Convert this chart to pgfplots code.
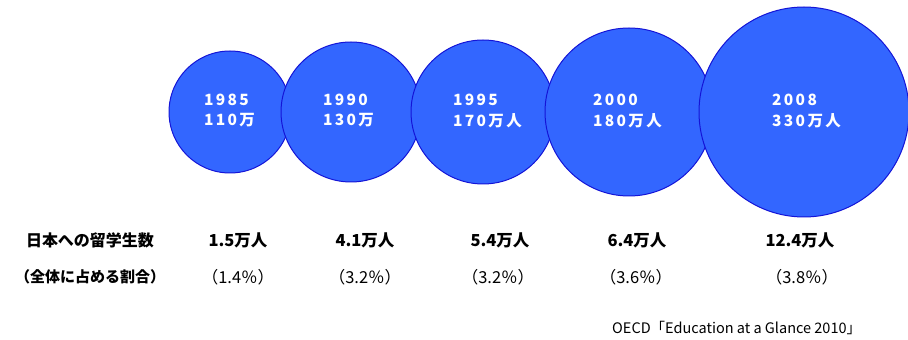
\documentclass[border=0pt]{standalone}
\usepackage{pgfplots}
\pgfplotsset{compat=1.18}
\usepackage{fontspec}
\setmainfont{Noto Sans CJK JP}
\newfontfamily\circfont[LetterSpace=15]{Noto Sans CJK JP}
\definecolor{bfill}{RGB}{51,102,255}
\definecolor{bdraw}{RGB}{20,20,215}
\pgfplotsset{txt/.style={only marks, mark=none, nodes near coords,
  point meta=explicit symbolic, nodes near coords align=center,
  every node near coord/.append style={inner sep=0pt, #1}}}
\begin{document}
\begin{tikzpicture}
\begin{axis}[x=1pt,y=1pt,xmin=0,xmax=908,ymin=0,ymax=340,hide axis,clip=false]
\addplot[scatter, only marks, mark=*, point meta=\thisrow{r},
  scatter/use mapped color={draw=bdraw, fill=bfill},
  visualization depends on={\thisrow{r}\as\rad},
  scatter/@pre marker code/.append style={/tikz/mark size=\rad},
  mark options={line width=1pt}]
  table{
  x y r
  230 228 61
  351 228 70
  483 228 72
  629 228 84
  804 228 105
  };
% years inside circles
\addplot[txt={anchor=west, text=white, font=\circfont\bfseries\fontsize{15.5}{18}\selectfont}]
  coordinates {(204,240) [1985] (323,240) [1990] (453,240) [1995] (593,240) [2000] (772,240) [2008]};
\addplot[txt={anchor=west, text=white, font=\circfont\bfseries\fontsize{15.5}{18}\selectfont}]
  coordinates {(204,219.5) [110万] (323,219.5) [130万] (453,219.5) [170万人] (593,219.5) [180万人] (772,219.5) [330万人]};
% row 1
\addplot[txt={anchor=center, font=\bfseries\fontsize{16}{18}\selectfont}]
  coordinates {(90,100) [日本への留学生数]};
\addplot[txt={anchor=center, font=\bfseries\fontsize{16.5}{18}\selectfont}]
  coordinates {(238,100) [1.5万人] (365,100) [4.1万人] (500,100) [5.4万人] (637,100) [6.4万人] (800,100) [12.4万人]};
% row 2
\addplot[txt={anchor=center, font=\bfseries\fontsize{15}{18}\selectfont}]
  coordinates {(90,63) [（全体に占める割合）]};
\addplot[txt={anchor=center, font=\fontsize{16.5}{18}\selectfont}]
  coordinates {(238,63) [（1.4％）] (365,63) [（3.2％）] (498,63) [（3.2％）] (636,63) [（3.6％）] (802,63) [（3.8％）]};
% source
\addplot[txt={anchor=west, font=\fontsize{14.5}{16}\selectfont}]
  coordinates {(612,12) [OECD「Education at a Glance 2010」]};
\end{axis}
\pgfresetboundingbox
\path[use as bounding box] (current axis.south west) rectangle (current axis.north east);
\end{tikzpicture}
\end{document}
